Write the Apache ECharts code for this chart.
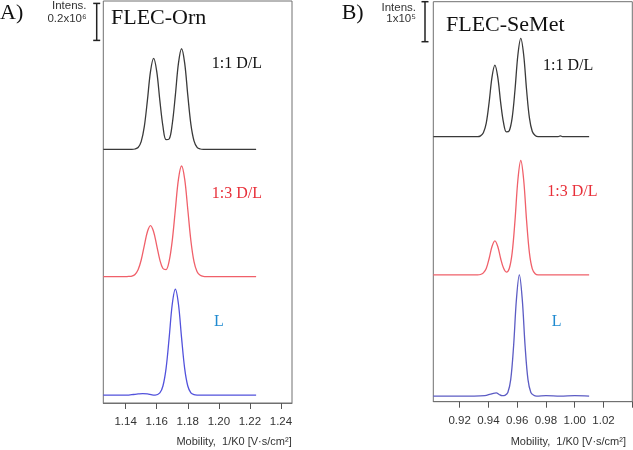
<!DOCTYPE html>
<html><head><meta charset="utf-8">
<script src="https://cdn.jsdelivr.net/npm/echarts@6/dist/echarts.min.js"></script>
<style>html,body{margin:0;padding:0;background:#fff}#c{width:633px;height:450px}</style>
</head><body><div id="c"></div>
<script>
// ---------- DATA (intensity in units of 1e5 counts) ----------
// Panel A: FLEC-Orn
const ornTicks = [1.14, 1.16, 1.18, 1.20, 1.22, 1.24];
const ornX = [1.1256,1.130,1.135,1.140,1.142,1.144,1.146,1.148,1.150,1.152,1.154,1.156,1.158,1.160,1.162,1.164,1.166,1.168,1.170,1.172,1.174,1.176,1.178,1.180,1.182,1.184,1.186,1.188,1.190,1.192,1.200,1.210,1.224];
const orn11 = [0,0,0,0,0,0,0.02,0.10,0.42,1.23,2.65,4.22,4.92,4.22,2.65,1.25,0.53,0.56,1.37,2.93,4.66,5.44,4.66,2.93,1.35,0.46,0.11,0.02,0,0,0,0,0];
const orn13 = [0,0,0,0,0.01,0.03,0.12,0.37,0.90,1.68,2.43,2.76,2.43,1.68,0.91,0.44,0.38,0.84,1.95,3.63,5.27,5.98,5.27,3.63,1.94,0.81,0.26,0.07,0.01,0,0,0,0];
const ornLX = [1.1256,1.135,1.142,1.145,1.148,1.151,1.154,1.157,1.159,1.162,1.164,1.166,1.168,1.170,1.172,1.174,1.176,1.178,1.180,1.182,1.184,1.186,1.190,1.200,1.210,1.224];
const ornL = [0,0,0,0.03,0.06,0.08,0.06,0.01,0,0.12,0.49,1.43,3.09,4.91,5.73,4.91,3.09,1.43,0.49,0.12,0.02,0,0,0,0,0];
const ornOffsets = [13.71, 6.83, 0.43];   // vertical stacking of traces 1:1, 1:3, L
const ornScale = 2;                        // 0.2x10^6 = 2 x 1e5

// Panel B: FLEC-SeMet
const semTicks = [0.92, 0.94, 0.96, 0.98, 1.00, 1.02, 1.04];
const semLabels = [0.92, 0.94, 0.96, 0.98, 1.00, 1.02];
const semX = [0.9017,0.910,0.920,0.9285,0.9305,0.9325,0.9345,0.9365,0.9385,0.9405,0.9425,0.9445,0.9465,0.9485,0.9505,0.9525,0.9545,0.9565,0.9585,0.9605,0.9625,0.9645,0.9665,0.9685,0.9705,0.9725,0.9745,0.9765,0.985,0.9885,0.990,0.9915,1.010];
const sem11 = [0,0,0,0,0,0,0.02,0.10,0.34,0.86,1.49,1.79,1.49,0.86,0.35,0.12,0.15,0.47,1.18,2.05,2.46,2.05,1.18,0.47,0.13,0.03,0,0,0,0,0.02,0,0];
const sem13 = [0,0,0,0,0,0,0.01,0.05,0.16,0.41,0.71,0.85,0.71,0.41,0.17,0.07,0.16,0.55,1.37,2.38,2.86,2.38,1.37,0.55,0.15,0.03,0,0,0,0,0,0,0];
const semLX = [0.9017,0.915,0.930,0.9375,0.9415,0.9435,0.9455,0.9475,0.9495,0.9515,0.9535,0.9555,0.9575,0.9595,0.9615,0.9635,0.9655,0.9675,0.9695,0.9715,0.9735,0.980,0.990,1.000,1.010];
const semL = [0,0,0,0.01,0.05,0.07,0.08,0.04,0.01,0.02,0.09,0.41,1.25,2.43,3.03,2.43,1.25,0.41,0.09,0.02,0,0.01,0,0.01,0];
const semOffsets = [6.625, 3.17, 0.14];
const semScale = 1;                        // 1x10^5

// ---------- CHART ----------
const SANS = 'Liberation Sans, Arial, sans-serif';
const SERIF = 'Liberation Serif, Times New Roman, serif';
const BLACK = '#3a3a3a', RED = '#f0606a', BLUE_A = '#5252dc', BLUE_B = '#5c5cc4';

function pairs(xs, ys, off) { return xs.map((x, i) => [x, ys[i] + off]); }
function line(xi, data, color) {
  return { type: 'line', xAxisIndex: xi, yAxisIndex: xi, data, showSymbol: false, smooth: 0.35,
    lineStyle: { color, width: 1.3 }, itemStyle: { color }, silent: true, animation: false };
}
function xAxis(gi, min, max, ticks, labels) {
  return { type: 'value', gridIndex: gi, min, max, splitLine: { show: false },
    axisLine: { show: true, lineStyle: { color: '#707070', width: 1 } },
    axisTick: { show: true, inside: false, length: 6, customValues: ticks, lineStyle: { color: '#555' } },
    axisLabel: { customValues: labels, margin: 13, fontSize: 11.5, fontFamily: SANS, color: '#333',
      formatter: v => v.toFixed(2) } };
}

const chart = echarts.init(document.getElementById('c'), null, { renderer: 'canvas' });
chart.setOption({
  animation: false,
  grid: [
    { left: 103.3, top: 1, right: 341, bottom: 47, show: true, borderColor: '#707070', borderWidth: 1 },
    { left: 433.3, top: 1.7, right: 0.7, bottom: 48.3, show: true, borderColor: '#707070', borderWidth: 1 }
  ],
  xAxis: [ xAxis(0, 1.1256, 1.2471, ornTicks, ornTicks), xAxis(1, 0.9017, 1.04, semTicks, semLabels) ],
  yAxis: [
    { type: 'value', gridIndex: 0, min: 0, max: 21.73, show: false },
    { type: 'value', gridIndex: 1, min: 0, max: 10, show: false }
  ],
  series: [
    line(0, pairs(ornX, orn11, ornOffsets[0]), BLACK),
    line(0, pairs(ornX, orn13, ornOffsets[1]), RED),
    line(0, pairs(ornLX, ornL, ornOffsets[2]), BLUE_A),
    line(1, pairs(semX, sem11, semOffsets[0]), BLACK),
    line(1, pairs(semX, sem13, semOffsets[1]), RED),
    line(1, pairs(semLX, semL, semOffsets[2]), BLUE_B)
  ]
});

function txt(x, y, text, font, fill, align) {
  return { type: 'text', x, y, silent: true,
    style: { text, font, fill, align: align || 'left', verticalAlign: 'middle' } };
}
function scaleBar(yi, px, topVal, units) {
  const y1 = chart.convertToPixel({ yAxisIndex: yi }, topVal);
  const y2 = chart.convertToPixel({ yAxisIndex: yi }, topVal - units);
  const st = { stroke: '#222', lineWidth: 1.5 };
  return [
    { type: 'line', silent: true, shape: { x1: px, y1, x2: px, y2 }, style: st },
    { type: 'line', silent: true, shape: { x1: px - 3.5, y1, x2: px + 3.5, y2: y1 }, style: st },
    { type: 'line', silent: true, shape: { x1: px - 3.5, y1: y2, x2: px + 3.5, y2 }, style: st }
  ];
}

const g = [
  txt(0, 13.5, 'A)', '22px ' + SERIF, '#111'),
  txt(341.7, 13.5, 'B)', '22px ' + SERIF, '#111'),
  txt(86.5, 6.2, 'Intens.', '11.5px ' + SANS, '#333', 'right'),
  txt(86.7, 19.3, '0.2x10\u2076', '11.5px ' + SANS, '#333', 'right'),
  txt(416, 8.2, 'Intens.', '11.5px ' + SANS, '#333', 'right'),
  txt(416, 19.3, '1x10\u2075', '11.5px ' + SANS, '#333', 'right'),
  txt(111, 18.7, 'FLEC-Orn', '22px ' + SERIF, '#111'),
  txt(446, 25, 'FLEC-SeMet', '22px ' + SERIF, '#111'),
  txt(211.7, 63.3, '1:1 D/L', '16px ' + SERIF, '#111'),
  txt(543, 65.3, '1:1 D/L', '16px ' + SERIF, '#111'),
  txt(211.7, 193.3, '1:3 D/L', '16px ' + SERIF, '#e8303a'),
  txt(547.3, 191.7, '1:3 D/L', '16px ' + SERIF, '#e8303a'),
  txt(214, 321.7, 'L', '16px ' + SERIF, '#1f8ad0'),
  txt(551.7, 321.7, 'L', '16px ' + SERIF, '#1f8ad0'),
  txt(291.7, 442, 'Mobility,  1/K0 [V\u00b7s/cm\u00b2]', '11px ' + SANS, '#333', 'right'),
  txt(626, 442, 'Mobility,  1/K0 [V\u00b7s/cm\u00b2]', '11px ' + SANS, '#333', 'right')
].concat(scaleBar(0, 96.7, 21.6, ornScale), scaleBar(1, 425, 10, semScale));

chart.setOption({ graphic: g });
</script>
</body></html>
